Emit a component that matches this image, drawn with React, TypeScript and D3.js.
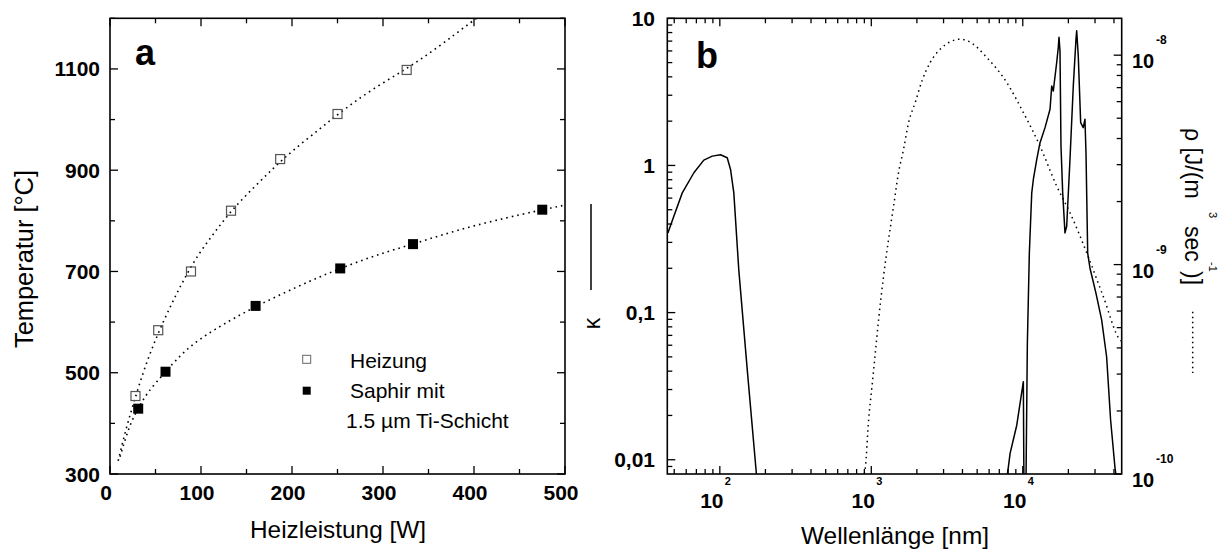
import React from 'react';
import * as d3 from 'd3';

// ---------- Panel a data ----------
const heizPower = [28, 53, 89, 133, 187, 250, 326];
const heizTemp = [454, 584, 700, 820, 922, 1011, 1098];
const saphirPower = [31, 61, 160, 253, 333, 475];
const saphirTemp = [429, 502, 632, 706, 754, 822];
const heizFitPower = [9, 18, 26, 37, 51, 66, 79, 95, 114, 133, 158, 180, 202, 231, 250, 286, 326, 360, 397, 403];
const heizFitTemp = [326, 393, 440, 505, 571, 630, 677, 729, 775, 820, 866, 905, 941, 982, 1010, 1058, 1100, 1142, 1193, 1200];
const saphirFitPower = [11, 22, 31, 40, 61, 84, 113, 160, 223, 253, 293, 333, 396, 475, 500];
const saphirFitTemp = [334, 400, 429, 459, 502, 548, 584, 632, 684, 706, 733, 754, 790, 822, 831];
const aXTicks = [0, 100, 200, 300, 400, 500];
const aYTicks = [300, 500, 700, 900, 1100];

// ---------- Panel b data ----------
const kappa1Lambda = [45.4, 49.7, 56.5, 67.4, 78.4, 89.1, 101, 111.9, 117.7, 123.7, 133.4, 152.2, 174.6];
const kappa1Value = [0.348, 0.451, 0.651, 0.892, 1.087, 1.157, 1.183, 1.128, 0.939, 0.651, 0.195, 0.0394, 0.0079];
const kappa2Lambda = [7915, 8249, 9128, 10090, 10170];
const kappa2Value = [0.0079, 0.01105, 0.01716, 0.0339, 0.0079];
const kappa3Lambda = [10515, 10724, 11053, 11463, 11747, 12372, 13002, 14028, 15136, 15530, 15910, 16750, 17160, 17350, 17610, 17880, 18350, 19000, 19500, 20500, 21560, 22460, 22700, 23250, 24120, 25080, 25740, 26150, 26830, 27770, 30420, 33180, 35780, 38030, 40590, 41210];
const kappa3Value = [0.0079, 0.0619, 0.254, 0.651, 0.803, 1.099, 1.428, 1.807, 2.408, 3.47, 3.21, 5.01, 6.34, 7.42, 6.01, 1.354, 0.651, 0.348, 0.386, 1.099, 3.47, 7.22, 8.23, 5.56, 1.955, 1.807, 2.06, 1.22, 0.254, 0.201, 0.1356, 0.0892, 0.0501, 0.01856, 0.00892, 0.0079];
const rhoLambda = [899, 912.8, 960, 1010.7, 1062.6, 1117, 1205, 1300, 1403, 1513, 1633, 1762, 1950, 2159, 2448, 2850, 3318, 3862, 4610, 5789, 7843, 10090, 13000, 16750, 20500, 26420, 33990, 43800, 45000];
const rhoValue = [1e-10, 1.065e-10, 1.813e-10, 2.617e-10, 3.78e-10, 5.45e-10, 8.79e-10, 1.317e-9, 1.9e-9, 2.75e-9, 3.55e-9, 4.76e-9, 5.94e-9, 7.53e-9, 9.23e-9, 1.068e-8, 1.158e-8, 1.193e-8, 1.141e-8, 9.75e-9, 7.4e-9, 5.32e-9, 3.68e-9, 2.37e-9, 1.77e-9, 1.14e-9, 7.05e-10, 4.38e-10, 4.3e-10];
const bXMajor = [100, 1000, 10000];
const bXMajorExp = ['2', '3', '4'];
const bKappaMajor = [10, 1, 0.1, 0.01];
const bKappaLabels = ['10', '1', '0,1', '0,01'];
const bRhoMajor = [1e-8, 1e-9, 1e-10];
const bRhoExp = ['-8', '-9', '-10'];

const FONT = '"Liberation Sans", Arial, Helvetica, sans-serif';

const A = { left: 110, right: 565, top: 18.3, bottom: 474 };
const B = { left: 667.3, right: 1121.7, top: 18.3, bottom: 474 };

const xA = d3.scaleLinear().domain([0, 500]).range([A.left, A.right]);
const yA = d3.scaleLinear().domain([300, 1200]).range([A.bottom, A.top]);
const xB = d3.scaleLog().domain([45, 45000]).range([B.left, B.right]);
const yK = d3.scaleLog().domain([0.008, 10]).range([B.bottom, B.top]);
const yR = d3.scaleLog().domain([1e-10, 1.5e-8]).range([B.bottom, B.top]);

function logMinors(lo: number, hi: number): number[] {
  const out: number[] = [];
  for (let e = Math.floor(Math.log10(lo)) - 1; e <= Math.ceil(Math.log10(hi)); e++) {
    for (let m = 2; m <= 9; m++) {
      const v = m * Math.pow(10, e);
      if (v > lo * 1.0001 && v < hi * 0.9999) out.push(v);
    }
  }
  return out;
}

export default function App() {
  const fitLine = d3.line<[number, number]>().x(d => xA(d[0])).y(d => yA(d[1])).curve(d3.curveBasis);
  const heizFit = fitLine(heizFitPower.map((p, i) => [p, heizFitTemp[i]]));
  const saphirFit = fitLine(saphirFitPower.map((p, i) => [p, saphirFitTemp[i]]));

  const kLine = d3.line<[number, number]>().x(d => xB(d[0])).y(d => yK(d[1]));
  const k1 = kLine(kappa1Lambda.map((l, i) => [l, kappa1Value[i]]));
  const k2 = kLine(kappa2Lambda.map((l, i) => [l, kappa2Value[i]]));
  const k3 = kLine(kappa3Lambda.map((l, i) => [l, kappa3Value[i]]));
  const rLine = d3.line<[number, number]>().x(d => xB(d[0])).y(d => yR(d[1])).curve(d3.curveMonotoneX);
  const rho = rLine(rhoLambda.map((l, i) => [l, rhoValue[i]]));

  const MAJ = 8, MIN = 5;
  const tickStyle = { stroke: '#000', strokeWidth: 1.3 };

  const aXAll = d3.range(0, 501, 50);
  const aYAll = d3.range(300, 1201, 100);

  const bXMin = logMinors(45, 45000);
  const bKMin = logMinors(0.008, 10);
  const bRMin = logMinors(1e-10, 1.5e-8);

  return (
    <svg width={1223} height={552} style={{ position: 'absolute', left: 0, top: 0, background: '#fff' }} fontFamily={FONT}>
      <defs>
        <clipPath id="clipA"><rect x={A.left} y={A.top} width={A.right - A.left} height={A.bottom - A.top} /></clipPath>
        <clipPath id="clipB"><rect x={B.left} y={B.top} width={B.right - B.left} height={B.bottom - B.top} /></clipPath>
      </defs>
      <rect x={0} y={0} width={1223} height={552} fill="#fff" />

      {/* ===== Panel a ===== */}
      <g>
        {aXAll.map(v => {
          const len = v % 100 === 0 ? MAJ : MIN;
          return (
            <g key={'ax' + v}>
              <line x1={xA(v)} x2={xA(v)} y1={A.bottom} y2={A.bottom - len} {...tickStyle} />
              <line x1={xA(v)} x2={xA(v)} y1={A.top} y2={A.top + len} {...tickStyle} />
            </g>
          );
        })}
        {aYAll.map(v => {
          const len = (v - 300) % 200 === 0 ? MAJ : MIN;
          return (
            <g key={'ay' + v}>
              <line x1={A.left} x2={A.left + len} y1={yA(v)} y2={yA(v)} {...tickStyle} />
              <line x1={A.right} x2={A.right - len} y1={yA(v)} y2={yA(v)} {...tickStyle} />
            </g>
          );
        })}
        <rect x={A.left} y={A.top} width={A.right - A.left} height={A.bottom - A.top} fill="none" stroke="#000" strokeWidth={1.6} />
        {aXTicks.map(v => (
          <text key={'axl' + v} x={xA(v) - 4} y={500} textAnchor="middle" fontSize={21} fontWeight="bold">{v}</text>
        ))}
        {aYTicks.map(v => (
          <text key={'ayl' + v} x={100} y={yA(v) + 7.5} textAnchor="end" fontSize={21} fontWeight="bold">{v}</text>
        ))}
        <g clipPath="url(#clipA)">
          <path d={heizFit || ''} fill="none" stroke="#000" strokeWidth={1.6} strokeDasharray="1.6 4" />
          <path d={saphirFit || ''} fill="none" stroke="#000" strokeWidth={1.6} strokeDasharray="1.6 4" />
        </g>
        {heizPower.map((p, i) => (
          <rect key={'hp' + i} x={xA(p) - 4.5} y={yA(heizTemp[i]) - 4.5} width={9} height={9} fill="none" stroke="#555" strokeWidth={1.2} />
        ))}
        {saphirPower.map((p, i) => (
          <rect key={'sp' + i} x={xA(p) - 5} y={yA(saphirTemp[i]) - 5} width={10} height={10} fill="#000" />
        ))}
        <text x={135} y={65} fontSize={36} fontWeight="bold">a</text>
        {/* legend */}
        <rect x={306.7 - 4} y={359.3 - 4} width={8} height={8} fill="none" stroke="#666" strokeWidth={1} />
        <rect x={306.7 - 4} y={390.7 - 4} width={8} height={8} fill="#000" />
        <text x={350} y={368} fontSize={21}>Heizung</text>
        <text x={350} y={398} fontSize={21}>Saphir mit</text>
        <text x={346} y={428} fontSize={21}>1.5 µm Ti-Schicht</text>
        {/* axis titles */}
        <text transform="translate(33,259) rotate(-90)" textAnchor="middle" fontSize={25} textLength={178} lengthAdjust="spacingAndGlyphs">Temperatur [°C]</text>
        <text x={338} y={538} textAnchor="middle" fontSize={24.5} textLength={176} lengthAdjust="spacingAndGlyphs">Heizleistung [W]</text>
      </g>

      {/* ===== Panel b ===== */}
      <g>
        {bXMajor.map(v => (
          <g key={'bxM' + v}>
            <line x1={xB(v)} x2={xB(v)} y1={B.bottom} y2={B.bottom - MAJ} {...tickStyle} />
            <line x1={xB(v)} x2={xB(v)} y1={B.top} y2={B.top + MAJ} {...tickStyle} />
          </g>
        ))}
        {bXMin.map(v => (
          <g key={'bxm' + v}>
            <line x1={xB(v)} x2={xB(v)} y1={B.bottom} y2={B.bottom - MIN} {...tickStyle} />
            <line x1={xB(v)} x2={xB(v)} y1={B.top} y2={B.top + MIN} {...tickStyle} />
          </g>
        ))}
        {bKappaMajor.map(v => (
          <line key={'bkM' + v} x1={B.left} x2={B.left + MAJ} y1={yK(v)} y2={yK(v)} {...tickStyle} />
        ))}
        {bKMin.map(v => (
          <line key={'bkm' + v} x1={B.left} x2={B.left + MIN} y1={yK(v)} y2={yK(v)} {...tickStyle} />
        ))}
        {bRhoMajor.map(v => (
          <line key={'brM' + v} x1={B.right} x2={B.right - MAJ} y1={yR(v)} y2={yR(v)} {...tickStyle} />
        ))}
        {bRMin.map(v => (
          <line key={'brm' + v} x1={B.right} x2={B.right - MIN} y1={yR(v)} y2={yR(v)} {...tickStyle} />
        ))}
        <rect x={B.left} y={B.top} width={B.right - B.left} height={B.bottom - B.top} fill="none" stroke="#000" strokeWidth={1.6} />

        {bXMajor.map((v, i) => (
          <g key={'bxl' + v}>
            <text x={xB(v) - 8} y={508} textAnchor="middle" fontSize={21} fontWeight="bold">10</text>
            <text x={xB(v) + 5} y={485} fontSize={11} fontWeight="bold">{bXMajorExp[i]}</text>
          </g>
        ))}
        {bKappaMajor.map((v, i) => (
          <text key={'bkl' + v} x={655} y={yK(v) + 7.5} textAnchor="end" fontSize={21} fontWeight="bold">{bKappaLabels[i]}</text>
        ))}
        {bRhoMajor.map((v, i) => (
          <g key={'brl' + v}>
            <text x={1132} y={yR(v) + 13} fontSize={20} fontWeight="bold">10</text>
            <text x={1156} y={yR(v) - 11} fontSize={12} fontWeight="bold">{bRhoExp[i]}</text>
          </g>
        ))}

        <g clipPath="url(#clipB)">
          <path d={k1 || ''} fill="none" stroke="#000" strokeWidth={1.5} strokeLinejoin="round" />
          <path d={k2 || ''} fill="none" stroke="#000" strokeWidth={1.5} strokeLinejoin="round" />
          <path d={k3 || ''} fill="none" stroke="#000" strokeWidth={1.5} strokeLinejoin="round" />
          <path d={rho || ''} fill="none" stroke="#000" strokeWidth={1.5} strokeDasharray="1.5 3.8" />
        </g>

        <text x={696} y={68} fontSize={36} fontWeight="bold">b</text>

        {/* kappa label */}
        <line x1={591} x2={591} y1={204} y2={290} stroke="#000" strokeWidth={1.5} />
        <text transform="translate(600,323.5) rotate(-90)" textAnchor="middle" fontSize={23}>κ</text>

        {/* rho label */}
        <text transform="translate(1185,128) rotate(90)" fontSize={23}>ρ [J/(m</text>
        <text transform="translate(1209,212) rotate(90)" fontSize={11}>3</text>
        <text transform="translate(1185,226) rotate(90)" fontSize={23}>sec</text>
        <text transform="translate(1209,262) rotate(90)" fontSize={11}>-1</text>
        <text transform="translate(1185,271) rotate(90)" fontSize={23}>)]</text>
        <line x1={1192.7} x2={1192.7} y1={311.7} y2={373} stroke="#000" strokeWidth={1.5} strokeDasharray="1.5 3.5" />

        <text x={895} y={544} textAnchor="middle" fontSize={24.3} textLength={188} lengthAdjust="spacingAndGlyphs">Wellenlänge [nm]</text>
      </g>
    </svg>
  );
}
